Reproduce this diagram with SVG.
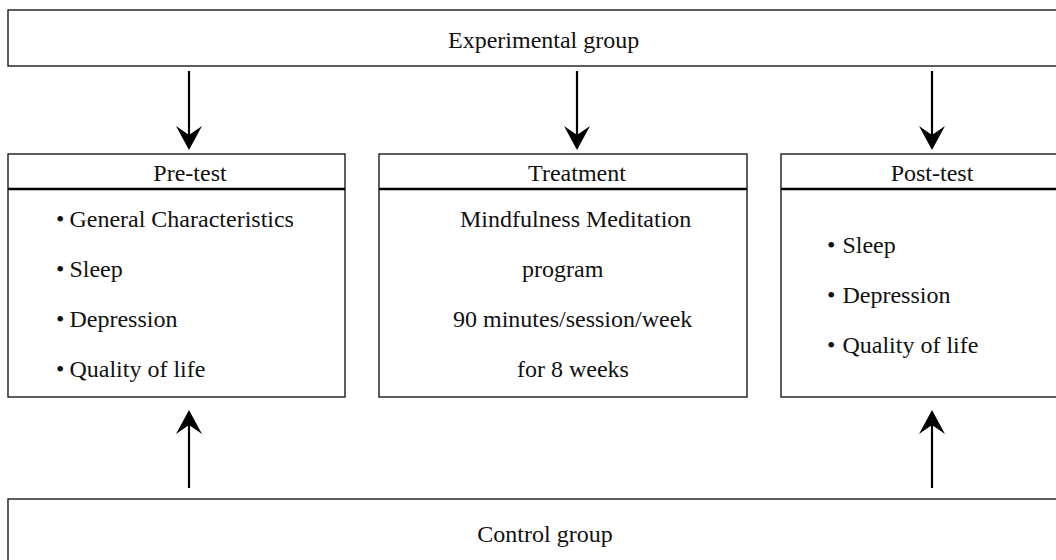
<svg xmlns="http://www.w3.org/2000/svg" width="1056" height="560" viewBox="0 0 1056 560">
<style>
  .box { fill: #fff; stroke: #1a1a1a; stroke-width: 1.4; }
  .sep { stroke: #000; stroke-width: 2.6; }
  .t { font-family: "Liberation Serif", "Times New Roman", serif; font-size: 24px; fill: #111; }
  .c { text-anchor: middle; }
  .arrow { stroke: #000; stroke-width: 2.2; fill: none; marker-end: url(#head); }
</style>
<defs>
  <marker id="head" markerUnits="userSpaceOnUse" markerWidth="30" markerHeight="30" refX="0" refY="0" orient="auto" overflow="visible">
    <path d="M2,0 L-22,-13 L-13,0 L-22,13 Z" fill="#000"/>
  </marker>
</defs>
<rect width="1056" height="560" fill="#fff"/>

<g id="experimental-group">
  <rect class="box" x="8" y="10" width="1080" height="56"/>
  <text class="t" x="448" y="48">Experimental group</text>
</g>

<g id="pre-test">
  <rect class="box" x="8" y="154" width="337" height="243"/>
  <line class="sep" x1="8" y1="189" x2="345" y2="189"/>
  <text class="t c" x="190" y="181">Pre-test</text>
  <text class="t" x="56" y="227">•<tspan dx="5">General Characteristics</tspan></text>
  <text class="t" x="56" y="277">•<tspan dx="5">Sleep</tspan></text>
  <text class="t" x="56" y="327">•<tspan dx="5">Depression</tspan></text>
  <text class="t" x="56" y="377">•<tspan dx="5">Quality of life</tspan></text>
</g>

<g id="treatment">
  <rect class="box" x="379" y="154" width="368" height="243"/>
  <line class="sep" x1="379" y1="189" x2="747" y2="189"/>
  <text class="t c" x="577" y="181">Treatment</text>
  <text class="t" x="460" y="227">Mindfulness Meditation</text>
  <text class="t" x="522" y="277">program</text>
  <text class="t" x="453" y="327">90 minutes/session/week</text>
  <text class="t" x="517" y="377">for 8 weeks</text>
</g>

<g id="post-test">
  <rect class="box" x="781" y="154" width="320" height="243"/>
  <line class="sep" x1="781" y1="189" x2="1101" y2="189"/>
  <text class="t c" x="932" y="181">Post-test</text>
  <text class="t" x="827" y="253">•<tspan dx="7">Sleep</tspan></text>
  <text class="t" x="827" y="303">•<tspan dx="7">Depression</tspan></text>
  <text class="t" x="827" y="353">•<tspan dx="7">Quality of life</tspan></text>
</g>

<g id="control-group">
  <rect class="box" x="8" y="499" width="1080" height="80"/>
  <text class="t c" x="545" y="542">Control group</text>
</g>

<g id="connectors">
  <line class="arrow" x1="189" y1="71" x2="189" y2="148"/>
  <line class="arrow" x1="577" y1="71" x2="577" y2="148"/>
  <line class="arrow" x1="932" y1="71" x2="932" y2="148"/>
  <line class="arrow" x1="189" y1="488" x2="189" y2="412"/>
  <line class="arrow" x1="932" y1="488" x2="932" y2="412"/>
</g>
</svg>
